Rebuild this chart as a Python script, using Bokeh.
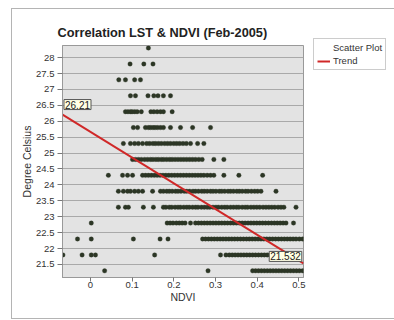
from bokeh.plotting import figure
from bokeh.models import (Label, Legend, LegendItem, FixedTicker, Range1d,
                          NumeralTickFormatter)
from bokeh.embed import file_html
from bokeh.resources import INLINE

# ---------------- data ----------------
# Land-surface temperature levels (degree Celsius) of each row of points
lst_levels = [28.3, 27.8, 27.3, 26.8, 26.3, 25.8, 25.3, 24.8, 24.3, 23.8,
              23.3, 22.8, 22.3, 21.8, 21.3]

ndvi_283 = [0.139]
ndvi_278 = [0.095, 0.128, 0.150]
ndvi_273 = [0.068, 0.084, 0.106, 0.120]
ndvi_268 = [0.096, 0.108, 0.138, 0.152, 0.162, 0.175, 0.192]
ndvi_263 = [0.084, 0.090, 0.096, 0.100, 0.106, 0.112, 0.122, 0.145, 0.152,
            0.160, 0.168, 0.175, 0.196]
ndvi_258 = [0.103, 0.113, 0.132, 0.139, 0.144, 0.150, 0.155, 0.161, 0.168,
            0.175, 0.192, 0.216, 0.245, 0.288]
ndvi_253 = [0.079, 0.096, 0.106, 0.115, 0.125, 0.135, 0.142, 0.150, 0.156,
            0.163, 0.170, 0.178, 0.185, 0.192, 0.200, 0.207, 0.214, 0.222,
            0.230, 0.240, 0.257, 0.272]
ndvi_248 = [0.101, 0.108, 0.115, 0.122, 0.130, 0.137, 0.144, 0.150, 0.157,
            0.163, 0.170, 0.176, 0.183, 0.190, 0.196, 0.203, 0.210, 0.217,
            0.224, 0.231, 0.238, 0.245, 0.252, 0.260, 0.268, 0.296, 0.320]
ndvi_243 = [0.043, 0.077, 0.089, 0.101, 0.125, 0.132, 0.139, 0.146, 0.153,
            0.160, 0.167, 0.174, 0.181, 0.188, 0.195, 0.202, 0.209, 0.216,
            0.223, 0.230, 0.237, 0.244, 0.251, 0.258, 0.265, 0.272, 0.280,
            0.288, 0.296, 0.320, 0.356, 0.413]
ndvi_238 = [0.067, 0.079, 0.089, 0.096, 0.106, 0.115, 0.125, 0.149, 0.168,
            0.175, 0.183, 0.189, 0.196, 0.204, 0.210, 0.217, 0.225, 0.231,
            0.238, 0.246, 0.252, 0.259, 0.267, 0.273, 0.280, 0.288, 0.294,
            0.301, 0.309, 0.315, 0.322, 0.330, 0.336, 0.343, 0.351, 0.357,
            0.364, 0.372, 0.378, 0.386, 0.394, 0.401, 0.409, 0.445]
ndvi_233 = [0.067, 0.084, 0.091, 0.127, 0.151, 0.175, 0.181, 0.189, 0.195,
            0.203, 0.210, 0.216, 0.224, 0.231, 0.237, 0.245, 0.252, 0.258,
            0.266, 0.273, 0.280, 0.286, 0.294, 0.301, 0.307, 0.315, 0.322,
            0.328, 0.336, 0.343, 0.350, 0.356, 0.364, 0.371, 0.377, 0.385,
            0.392, 0.399, 0.406, 0.414, 0.421, 0.428, 0.435, 0.442, 0.450,
            0.457, 0.464, 0.493]
ndvi_228 = [0.002, 0.184, 0.191, 0.198, 0.206, 0.213, 0.220, 0.227, 0.240,
            0.252, 0.259, 0.266, 0.273, 0.280, 0.287, 0.294, 0.301, 0.308,
            0.315, 0.322, 0.329, 0.336, 0.343, 0.350, 0.357, 0.364, 0.371,
            0.378, 0.385, 0.392, 0.399, 0.406, 0.413, 0.420, 0.427, 0.434,
            0.441, 0.448, 0.455, 0.462, 0.469, 0.487]
ndvi_223 = [-0.031, 0.002, 0.103, 0.167, 0.186, 0.269, 0.276, 0.283, 0.290,
            0.297, 0.304, 0.311, 0.318, 0.325, 0.332, 0.339, 0.346, 0.353,
            0.360, 0.367, 0.374, 0.381, 0.388, 0.395, 0.402, 0.409, 0.416,
            0.423, 0.430, 0.437, 0.444, 0.451, 0.458, 0.465, 0.472, 0.479,
            0.486, 0.493, 0.501, 0.509]
ndvi_218 = [-0.066, -0.020, 0.002, 0.012, 0.154, 0.312, 0.325, 0.333, 0.340,
            0.347, 0.354, 0.361, 0.368, 0.375, 0.382, 0.389, 0.396, 0.403,
            0.410, 0.417, 0.424, 0.431, 0.438, 0.445, 0.452, 0.459, 0.466,
            0.473, 0.481, 0.490, 0.499]
ndvi_213 = [0.034, 0.282, 0.389, 0.396, 0.403, 0.410, 0.417, 0.424, 0.431,
            0.438, 0.445, 0.452, 0.459, 0.466, 0.473, 0.480, 0.487, 0.494,
            0.501, 0.509]

ndvi_rows = [ndvi_283, ndvi_278, ndvi_273, ndvi_268, ndvi_263, ndvi_258,
             ndvi_253, ndvi_248, ndvi_243, ndvi_238, ndvi_233, ndvi_228,
             ndvi_223, ndvi_218, ndvi_213]

# Trend line end points (values shown in the call-out boxes)
trend_ndvi = [-0.067, 0.511]
trend_lst = [26.21, 21.532]

y_ticks = [21.5, 22, 22.5, 23, 23.5, 24, 24.5, 25, 25.5, 26, 26.5, 27, 27.5, 28]
x_ticks = [0, 0.1, 0.2, 0.3, 0.4, 0.5]

xs, ys = [], []
for lev, row in zip(lst_levels, ndvi_rows):
    xs.extend(row)
    ys.extend([lev] * len(row))

FONT = "'Liberation Sans', Arial, sans-serif"

p = figure(frame_width=241, frame_height=232,
           min_border_left=50, min_border_right=89,
           min_border_top=36, min_border_bottom=41,
           x_range=Range1d(-0.067, 0.511), y_range=Range1d(21.09, 28.38),
           output_backend="svg", toolbar_location=None,
           title="Correlation LST & NDVI (Feb-2005)")
p.styles = {"border-left": "1px solid #b4b4b4",
            "border-top": "1px solid #b4b4b4",
            "border-bottom": "1px solid #b4b4b4",
            "margin-left": "11px", "margin-top": "8px"}

p.title.text_font = FONT
p.title.text_font_size = "12.75px"
p.title.text_font_style = "bold"
p.title.text_color = "#222222"
p.title.align = "left"
p.title.offset = -5
p.title.standoff = 11

p.background_fill_color = "#e3e3e3"
p.border_fill_color = "white"
p.outline_line_color = "#999999"

p.xgrid.visible = False
p.ygrid.ticker = FixedTicker(ticks=y_ticks)
p.ygrid.grid_line_color = "#a9a9a9"

for ax in (p.xaxis[0], p.yaxis[0]):
    ax.major_label_text_font = FONT
    ax.major_label_text_font_size = "9.5px"
    ax.major_label_text_color = "#333333"
    ax.axis_label_text_font = FONT
    ax.axis_label_text_font_size = "10.5px"
    ax.axis_label_text_font_style = "normal"
    ax.axis_label_text_color = "#333333"
    ax.axis_line_color = "#999999"
    ax.major_tick_line_color = "#777777"
    ax.major_tick_in = 0
    ax.minor_tick_line_color = None
    ax.formatter = NumeralTickFormatter(format="0.[0]")

p.yaxis.ticker = FixedTicker(ticks=y_ticks)
p.xaxis.ticker = FixedTicker(ticks=x_ticks)
p.yaxis.axis_label = "Degree Celsius"
p.xaxis.axis_label = "NDVI"
p.yaxis.major_tick_out = 5
p.yaxis.major_label_standoff = 3
p.yaxis.axis_label_standoff = 0
p.xaxis.major_tick_out = 4
p.xaxis.major_label_standoff = 0
p.xaxis.axis_label_standoff = 0

pts = p.scatter(xs, ys, marker="circle", size=4.5,
                fill_color="#2c3625", line_color="#2c3625", line_width=0.3)
trend = p.line(trend_ndvi, trend_lst, line_color="#d02828", line_width=2)
dummy = p.scatter([], [], marker="circle", fill_alpha=0, line_alpha=0)

lbl_kw = dict(text_font=FONT, text_font_size="10px", text_color="#222222",
              text_align="center", text_baseline="middle",
              background_fill_color="#ffffe4", border_line_color="#555555",
              padding=1)
p.add_layout(Label(x=trend_ndvi[0], y=trend_lst[0], text=str(trend_lst[0]),
                   x_offset=15, y_offset=10, **lbl_kw))
p.add_layout(Label(x=trend_ndvi[1], y=trend_lst[1], text=str(trend_lst[1]),
                   x_offset=-18, y_offset=7, **lbl_kw))

legend = Legend(items=[LegendItem(label="Scatter Plot", renderers=[dummy]),
                       LegendItem(label="Trend", renderers=[trend])],
                location=(10, 207), orientation="vertical",
                label_text_font=FONT, label_text_font_size="9.5px",
                label_text_color="#333333", glyph_width=13, glyph_height=10,
                label_height=10, label_standoff=3, spacing=2, padding=3,
                margin=0, border_line_color="#999999",
                background_fill_color="white", background_fill_alpha=1)
p.add_layout(legend, "right")

open("out.html", "w").write(file_html(p, INLINE))
